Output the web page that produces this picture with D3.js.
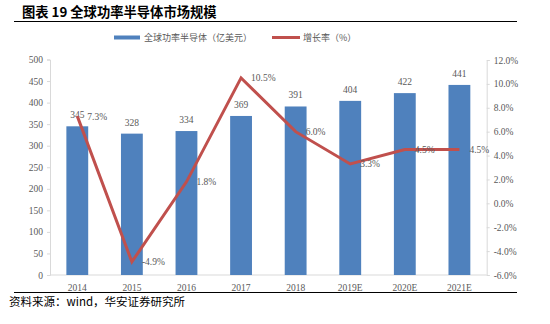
<!DOCTYPE html>
<html><head><meta charset="utf-8">
<script src="https://cdn.jsdelivr.net/npm/d3@7"></script>
<style>body{margin:0;background:#fff}svg{display:block}</style>
</head><body>
<script>
const categories = ["2014","2015","2016","2017","2018","2019E","2020E","2021E"];
const marketSize = [345,328,334,369,391,404,422,441];
const growthRate = [7.3,-4.9,1.8,10.5,6.0,3.3,4.5,4.5];
const leftTicks = [0,50,100,150,200,250,300,350,400,450,500];
const rightTicks = [-6,-4,-2,0,2,4,6,8,10,12];
const seriesNames = ["全球功率半导体（亿美元）","增长率（%）"];
const titleText = "图表 19 全球功率半导体市场规模";
const sourceText = "资料来源：wind，华安证券研究所";

const W=550,H=324;
const svg=d3.select("body").append("svg").attr("width",W).attr("height",H);
const serif="'Liberation Serif','Times New Roman',serif";
const cjk="'Noto Sans CJK SC','Noto Sans',sans-serif";
const gray="#595959";

const x=d3.scaleBand().domain(categories).range([50,486.7]).paddingInner(0.6).paddingOuter(0.3);
const yL=d3.scaleLinear().domain([0,500]).range([275,59.5]);
const yR=d3.scaleLinear().domain([-6,12]).range([275,60]);

// title
svg.append("text").attr("x",22).attr("y",17).attr("font-family",cjk).attr("font-weight","bold")
  .attr("font-size",13.3).attr("fill","#000").text(titleText);
svg.append("line").attr("x1",14).attr("x2",517).attr("y1",21.5).attr("y2",21.5).attr("stroke","#000").attr("stroke-width",1.2);

// axes
const axL=svg.append("g").attr("transform","translate(50,0)")
  .call(d3.axisLeft(yL).tickValues(leftTicks).tickSize(3).tickPadding(4));
const axR=svg.append("g").attr("transform","translate(486.7,0)")
  .call(d3.axisRight(yR).tickValues(rightTicks).tickSize(3).tickPadding(4).tickFormat(d=>d.toFixed(1)+"%"));
const axB=svg.append("g").attr("transform","translate(0,275)")
  .call(d3.axisBottom(x).tickSize(0).tickPadding(9));
[axL,axR,axB].forEach(g=>{
  g.selectAll("path,line").attr("stroke","#D9D9D9");
  g.selectAll("text").attr("font-family",serif).attr("font-size",9.5).attr("fill",gray);
});
axB.select(".domain").attr("d","M50,0H486.7");

// bars
svg.append("g").selectAll("rect").data(categories).join("rect")
  .attr("x",d=>x(d)).attr("width",x.bandwidth())
  .attr("y",(d,i)=>yL(marketSize[i])).attr("height",(d,i)=>yL(0)-yL(marketSize[i]))
  .attr("fill","#4F81BD");
svg.append("g").selectAll("text").data(categories).join("text")
  .attr("x",d=>x(d)+x.bandwidth()/2).attr("y",(d,i)=>yL(marketSize[i])-8)
  .attr("text-anchor","middle").attr("font-family",serif).attr("font-size",9.5).attr("fill",gray)
  .text((d,i)=>marketSize[i]);

// line
const cx=d=>x(d)+x.bandwidth()/2;
svg.append("path").datum(categories)
  .attr("d",d3.line().x(d=>cx(d)).y((d,i)=>yR(growthRate[i])))
  .attr("fill","none").attr("stroke","#C0504D").attr("stroke-width",3).attr("stroke-linejoin","miter");
svg.append("g").selectAll("text").data(categories).join("text")
  .attr("x",d=>cx(d)+10).attr("y",(d,i)=>yR(growthRate[i])+3.5)
  .attr("font-family",serif).attr("font-size",9.5).attr("fill",gray)
  .text((d,i)=>growthRate[i].toFixed(1)+"%");

// legend
svg.append("rect").attr("x",114).attr("y",35.5).attr("width",26).attr("height",4).attr("fill","#4F81BD");
svg.append("text").attr("x",144).attr("y",41).attr("font-family",cjk).attr("font-size",9).attr("fill",gray).text(seriesNames[0]);
svg.append("line").attr("x1",272).attr("x2",300).attr("y1",37.5).attr("y2",37.5).attr("stroke","#C0504D").attr("stroke-width",3);
svg.append("text").attr("x",303).attr("y",41).attr("font-family",cjk).attr("font-size",9).attr("fill",gray).text(seriesNames[1]);

// footer
svg.append("line").attr("x1",14).attr("x2",517).attr("y1",292.5).attr("y2",292.5).attr("stroke","#000").attr("stroke-width",1.2);
svg.append("text").attr("x",9).attr("y",306).attr("font-family",cjk).attr("font-size",11.5).attr("fill","#000").text(sourceText);
</script>
</body></html>
